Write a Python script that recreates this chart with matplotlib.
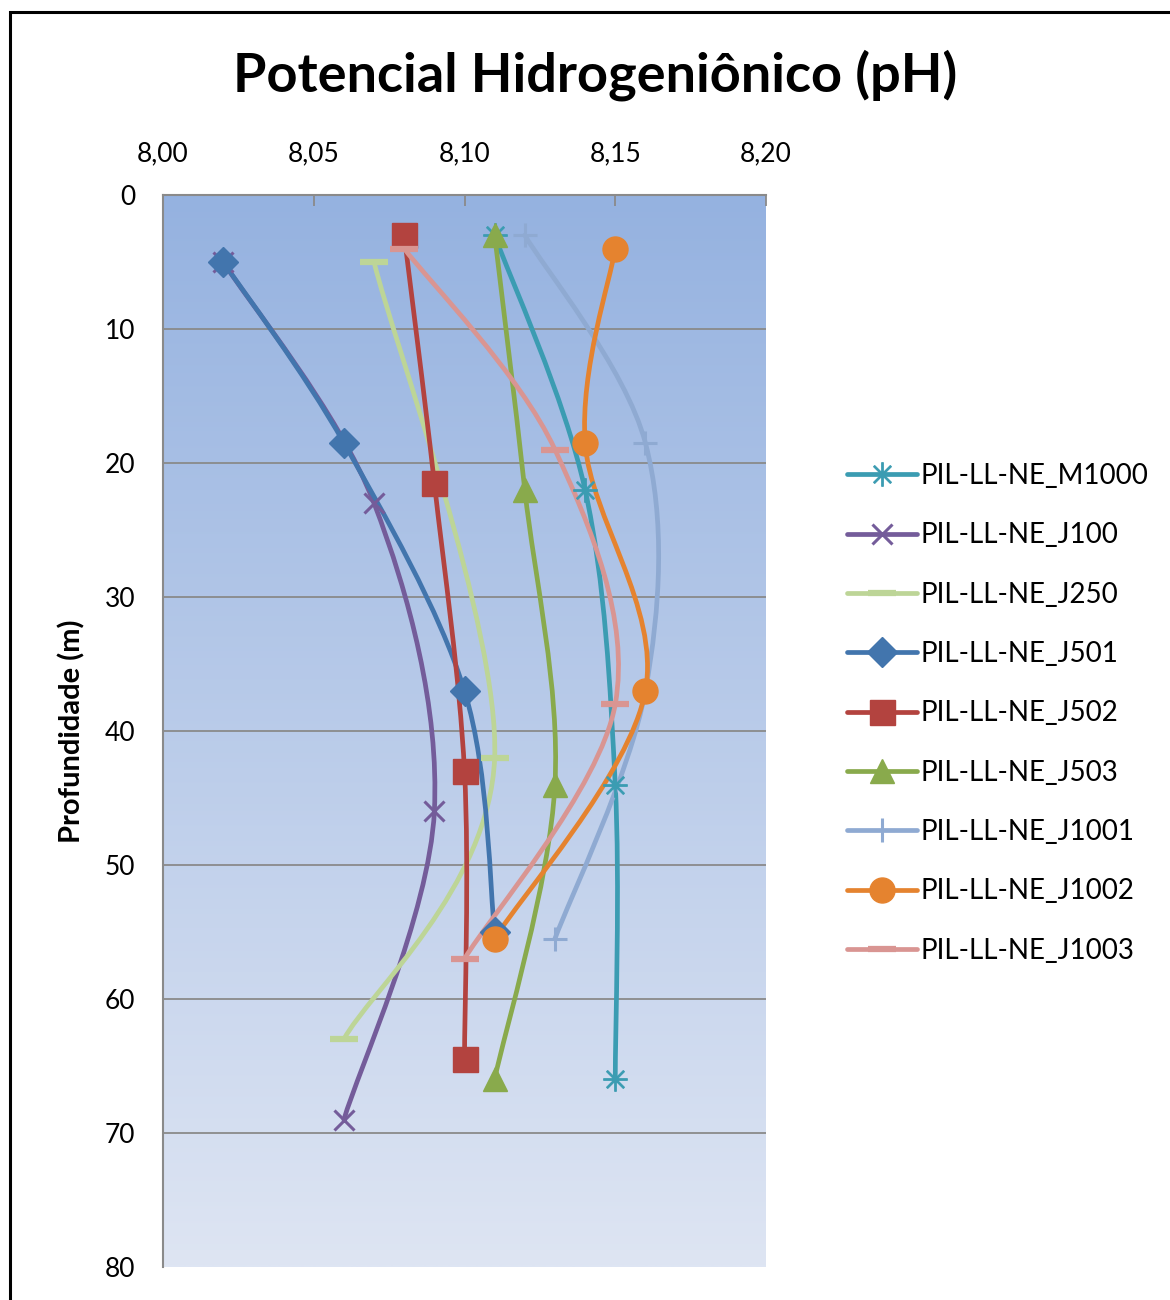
import numpy as np
import matplotlib
matplotlib.use("Agg")
import matplotlib.pyplot as plt
from matplotlib.path import Path
from matplotlib.patches import PathPatch, Rectangle
from matplotlib.lines import Line2D

plt.rcParams['font.family'] = ['Lato', 'DejaVu Sans']

# ---- data ----
series_names = ["PIL-LL-NE_M1000", "PIL-LL-NE_J100", "PIL-LL-NE_J250", "PIL-LL-NE_J501",
                "PIL-LL-NE_J502", "PIL-LL-NE_J503", "PIL-LL-NE_J1001", "PIL-LL-NE_J1002",
                "PIL-LL-NE_J1003"]
ph_M1000 = [8.11, 8.14, 8.15, 8.15]
depth_M1000 = [3, 22, 44, 66]
ph_J100 = [8.02, 8.07, 8.09, 8.06]
depth_J100 = [5, 23, 46, 69]
ph_J250 = [8.07, 8.11, 8.06]
depth_J250 = [5, 42, 63]
ph_J501 = [8.02, 8.06, 8.10, 8.11]
depth_J501 = [5, 18.5, 37, 55]
ph_J502 = [8.08, 8.09, 8.10, 8.10]
depth_J502 = [3, 21.5, 43, 64.5]
ph_J503 = [8.11, 8.12, 8.13, 8.11]
depth_J503 = [3, 22, 44, 66]
ph_J1001 = [8.12, 8.16, 8.16, 8.13]
depth_J1001 = [3, 18.5, 37, 55.5]
ph_J1002 = [8.15, 8.14, 8.16, 8.11]
depth_J1002 = [4, 18.5, 37, 55.5]
ph_J1003 = [8.08, 8.13, 8.15, 8.10]
depth_J1003 = [4, 19, 38, 57]

x_ticks = [8.00, 8.05, 8.10, 8.15, 8.20]
x_tick_labels = ["8,00", "8,05", "8,10", "8,15", "8,20"]
y_ticks = [0, 10, 20, 30, 40, 50, 60, 70, 80]

series_ph = [ph_M1000, ph_J100, ph_J250, ph_J501, ph_J502, ph_J503, ph_J1001, ph_J1002, ph_J1003]
series_depth = [depth_M1000, depth_J100, depth_J250, depth_J501, depth_J502, depth_J503,
                depth_J1001, depth_J1002, depth_J1003]

# ---- styles ----
colors = ["#3B9CB2", "#745C9A", "#BDD597", "#4275AD", "#B3433F", "#89AA4C", "#8FAAD2", "#E5832F", "#D99592"]
markers = ["$\u2733$", "x", "_", "D", "s", "^", "+", "o", "_"]
msizes = [17, 14, 20, 15, 18, 17, 17, 18, 20]
mews = [0.8, 2.2, 4.5, 1, 1, 1, 2.2, 1, 4.5]
line_w = 3.4

fig = plt.figure(figsize=(11.7, 13.0), dpi=100)
ax = fig.add_axes([163/1170, 1 - 1267/1300, (766-163)/1170, (1267-195)/1300])

# gradient plot background
top_c = np.array(matplotlib.colors.to_rgb("#95B2E0"))
bot_c = np.array(matplotlib.colors.to_rgb("#DEE5F3"))
t = np.linspace(0, 1, 256)[:, None]
grad = (top_c[None, :] * (1 - t) + bot_c[None, :] * t)[:, None, :]
ax.imshow(grad, extent=[8.00, 8.20, 80, 0], aspect='auto', zorder=0, interpolation='bilinear')

ax.set_xlim(8.00, 8.20)
ax.set_ylim(80, 0)

for y in y_ticks[1:-1]:
    ax.axhline(y, color="#8A8A8A", lw=1.3, zorder=1)


def smooth_path(xs, ys):
    pts = np.column_stack([xs, ys]).astype(float)
    n = len(pts)
    verts = [pts[0]]
    codes = [Path.MOVETO]
    for i in range(n - 1):
        p0 = pts[i - 1] if i > 0 else pts[i]
        p1 = pts[i]
        p2 = pts[i + 1]
        p3 = pts[i + 2] if i + 2 < n else pts[i + 1]
        c1 = p1 + (p2 - p0) / 6.0
        c2 = p2 - (p3 - p1) / 6.0
        verts += [c1, c2, p2]
        codes += [Path.CURVE4] * 3
    return Path(verts, codes)


handles = []
for k in range(len(series_names)):
    xs, ys = series_ph[k], series_depth[k]
    patch = PathPatch(smooth_path(xs, ys), facecolor='none', edgecolor=colors[k],
                      lw=line_w, capstyle='round', joinstyle='round', zorder=3 + k * 0.1)
    ax.add_patch(patch)
    ax.plot(xs, ys, linestyle='none', marker=markers[k], markersize=msizes[k],
            color=colors[k], markeredgewidth=mews[k], markeredgecolor=colors[k],
            zorder=4 + k * 0.1)
    handles.append(Line2D([], [], color=colors[k], lw=line_w, marker=markers[k],
                          markersize=msizes[k], markeredgewidth=mews[k],
                          markeredgecolor=colors[k], solid_capstyle='round'))

ax.xaxis.tick_top()
ax.set_xticks(x_ticks)
ax.set_xticklabels(x_tick_labels, fontsize=19)
ax.set_yticks(y_ticks)
ax.set_yticklabels([str(v) for v in y_ticks], fontsize=19)
ax.tick_params(axis='x', direction='in', length=8, width=1.3, color="#8A8A8A", pad=21)
ax.tick_params(axis='y', length=0, pad=20)
for s in ['right', 'bottom']:
    ax.spines[s].set_visible(False)
for s in ['left', 'top']:
    ax.spines[s].set_color("#8A8A8A")
    ax.spines[s].set_linewidth(1.5)

ax.set_ylabel("Profundidade (m)", fontsize=21, fontweight='bold', labelpad=14)

fig.text(595/1170, 1 - 75/1300, "Potencial Hidrogeniônico (pH)", fontsize=39,
         fontweight='bold', ha='center', va='center')

leg = fig.legend(handles, series_names, loc='upper left', bbox_to_anchor=(836/1170, 1 - 452/1300),
                 frameon=False, fontsize=20, handlelength=2.5, labelspacing=1.2,
                 handletextpad=0.15, borderaxespad=0)

# outer frame
fig.patches.append(Rectangle((10/1170, -0.05), 1.2, 1 - 12/1300 + 0.05, transform=fig.transFigure,
                             fill=False, edgecolor='black', lw=2.2))

fig.savefig("out.png", dpi=100)
